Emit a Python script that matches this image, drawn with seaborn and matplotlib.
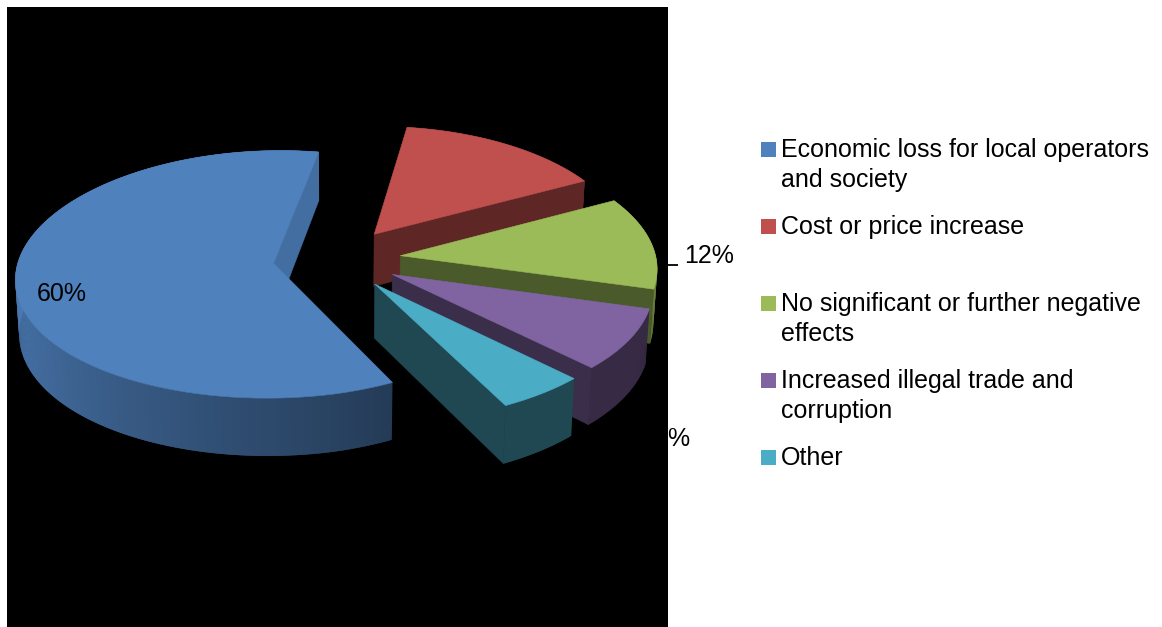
import numpy as np
import matplotlib
matplotlib.use("Agg")
import matplotlib.pyplot as plt
from matplotlib.patches import Polygon, Rectangle
import seaborn as sns

# Survey shares, in slice order (clockwise)
categories = [
    "Economic loss for local operators\nand society",
    "Cost or price increase",
    "No significant or further negative\neffects",
    "Increased illegal trade and\ncorruption",
    "Other",
]
shares = [60, 15, 12, 8, 5]
hex_colors = ["#4F81BD", "#C0504D", "#9BBB59", "#8064A2", "#4BACC6"]

sns.set_theme(style="white")
plt.rcParams["font.family"] = ["Liberation Sans", "DejaVu Sans"]
palette = sns.color_palette(hex_colors)

# Projection of the tilted pie
CX, CY = 337.0, 259.0
RX, RY = 255.0, 123.0
PERSPECTIVE_X = 0.11
PERSPECTIVE_Y = 0.088
ROLL = 3.0
DEPTH = 53.0
EXPLODE = 0.25
START_ANGLE = 296.4

# Wall shading: side-wall brightness at the first rim point and further round,
# plus the brightness of the visible cut face
rim_shades = [(0.46, 0.95), (0.5, 0.5), (0.68, 0.68), (0.42, 0.42), (0.42, 0.42)]
cut_shades = [0.85, 0.49, 0.48, 0.46, 0.42]
draw_order = [1, 2, 3, 0, 4]


def project(x, y, lower=False):
    x, y = np.asarray(x, float), np.asarray(y, float)
    sx = RX * x * (1 - PERSPECTIVE_X * y)
    f = 1 - PERSPECTIVE_Y * y
    sy = -RY * y * f - ROLL * np.maximum(x, 0)
    if lower:
        return np.column_stack((CX + sx * 0.988, CY + sy + DEPTH * f))
    return np.column_stack((CX + sx, CY + sy))


def dim(color, k):
    return tuple(min(1.0, c * k) for c in color)


def draw_slice(ax, start, end, color, rim_shade, cut_shade):
    mid = np.radians((start + end) / 2)
    ox, oy = EXPLODE * np.cos(mid), EXPLODE * np.sin(mid)
    angles = np.linspace(start, end, max(int(abs(end - start)) * 2, 12))
    rad = np.radians(angles)
    rx, ry = ox + np.cos(rad), oy + np.sin(rad)

    # Outer wall, in overlapping facets so the gradient shows no seams
    travelled = np.abs(angles - start)
    shade = np.interp(travelled, [0, 116], rim_shade)
    top_rim, low_rim = project(rx, ry), project(rx, ry, lower=True)
    for i in range(len(angles) - 1):
        j = min(i + 2, len(angles) - 1)
        facet = [top_rim[i], top_rim[j], low_rim[j], low_rim[i]]
        ax.add_patch(Polygon(facet, closed=True, fc=dim(color, shade[i]), ec="none"))

    # Cut face at the clockwise end of the slice
    apex_top = project([ox], [oy])[0]
    apex_low = project([ox], [oy], lower=True)[0]
    c = dim(color, cut_shade)
    ax.add_patch(Polygon([apex_top, top_rim[-1], low_rim[-1], apex_low],
                         closed=True, fc=c, ec=c, lw=0.4))

    # Top surface
    ax.add_patch(Polygon(np.vstack(([apex_top], top_rim)), closed=True,
                         fc=color, ec=color, lw=0.4))


fig = plt.figure(figsize=(11.62, 6.27), dpi=100, facecolor="white")
ax = fig.add_axes([0, 0, 1, 1])
ax.set_xlim(0, 1162)
ax.set_ylim(627, 0)
ax.axis("off")

ax.add_patch(Rectangle((7, 7), 661, 620, fc="black", ec="none"))

sweeps = np.array(shares) / sum(shares) * 360
ends = START_ANGLE - np.cumsum(sweeps)
starts = ends + sweeps
for i in draw_order:
    draw_slice(ax, starts[i], ends[i], palette[i], rim_shades[i], cut_shades[i])

# Value labels; the 8% digit falls on the dark panel
label_style = dict(fontsize=18, color="black", va="center")
ax.text(37, 294, f"{shares[0]}%", ha="left", **label_style)
ax.text(684, 256, f"{shares[2]}%", ha="left", **label_style)
ax.text(691, 439, f"{shares[3]}%", ha="right", **label_style)
ax.plot([668, 678], [265, 265], color="black", lw=1.3, solid_capstyle="butt")

# Legend entries sit on an even grid
for i, label in enumerate(categories):
    y = 149 + i * 77
    ax.add_patch(Rectangle((761, y - 7), 15, 15, fc=palette[i], ec="none"))
    ax.text(781, y - 11, label, fontsize=18, color="black", ha="left", va="top",
            linespacing=1.33)

fig.savefig("out.png", dpi=100, facecolor="white")
